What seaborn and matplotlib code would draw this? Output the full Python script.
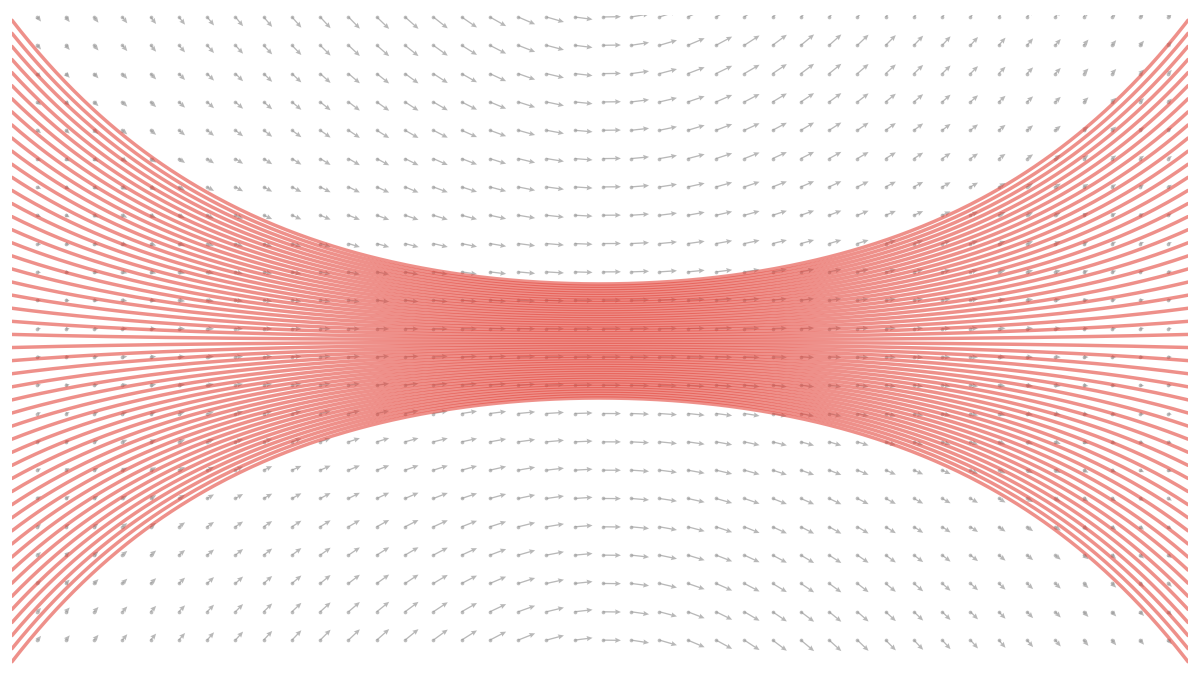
import numpy as np
import pandas as pd
import matplotlib
matplotlib.use("Agg")
import matplotlib.pyplot as plt
import seaborn as sns

# field parameters (1 unit ~ 196 px)
k = 0.804                      # how fast the channel opens up
x_extent = (-3.0, 3.0)         # streamlines run edge to edge
y_extent = (-1.653, 1.663)

# arrow grid (tail positions)
grid_x = np.linspace(-2.87, 2.90, 41)
grid_y = np.linspace(-1.526, 1.653, 23)

# streamline seeds across the waist (x = 0)
n_lines = 50
waist_offsets = np.linspace(-0.291, 0.291, n_lines)

line_color = "#e4473d"
arrow_color = "#9a9a9a"


def field(x, y):
    u = 1.0 / np.cosh(k * x)
    v = k * y * np.tanh(k * x) / np.cosh(k * x)
    return u, v


sns.set_theme(style="white")

fig = plt.figure(figsize=(12, 6.75), dpi=100)
ax = fig.add_axes([0.01, 10 / 675, 0.98, 650 / 675])

# vector field
X, Y = np.meshgrid(grid_x, grid_y)
U, V = field(X, Y)
ax.quiver(X, Y, U, V, angles="xy", scale_units="xy", scale=10.9,
          units="dots", width=1.3, headwidth=4, headlength=4.5,
          headaxislength=4, color=arrow_color, alpha=0.7, zorder=1)
tails = pd.DataFrame({"x": X.ravel(), "y": Y.ravel()})
sns.scatterplot(data=tails, x="x", y="y", s=7, color=arrow_color,
                alpha=0.65, linewidth=0, ax=ax, zorder=1, legend=False)

# streamlines y = c*cosh(kx)
xs = np.linspace(x_extent[0], x_extent[1], 400)
rows = []
for i, c in enumerate(waist_offsets):
    rows.append(pd.DataFrame({"x": xs, "y": c * np.cosh(k * xs), "line": i}))
lines_df = pd.concat(rows, ignore_index=True)

sns.lineplot(data=lines_df, x="x", y="y", units="line", estimator=None,
             sort=False, color=line_color, lw=2.5, alpha=0.6, ax=ax,
             zorder=2, legend=False)

ax.set_xlim(*x_extent)
ax.set_ylim(*y_extent)
ax.set_axis_off()

fig.savefig("out.png", dpi=100)
